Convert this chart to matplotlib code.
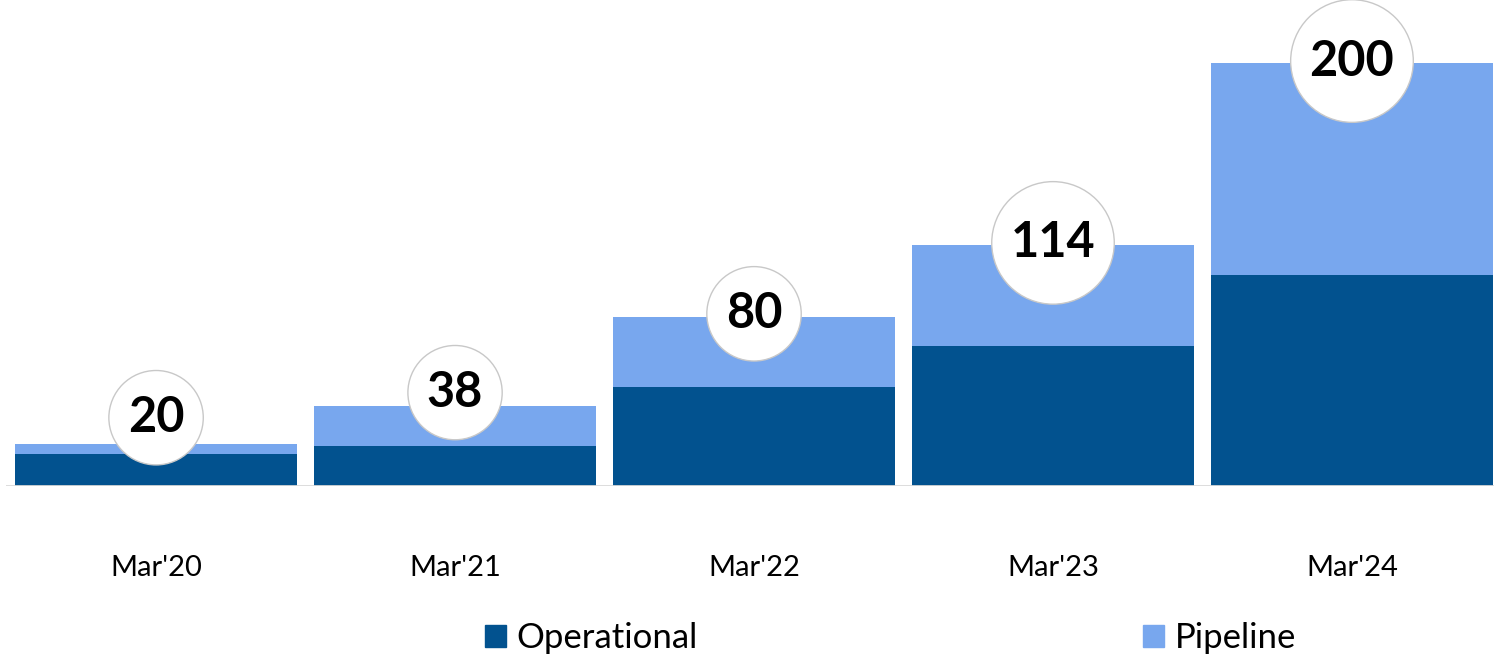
import matplotlib.pyplot as plt
from matplotlib.patches import Patch

years = ["Mar'20", "Mar'21", "Mar'22", "Mar'23", "Mar'24"]
operational = [15, 19, 47, 66, 100]
pipeline = [5, 19, 33, 48, 100]
totals = [20, 38, 80, 114, 200]

# lift of the circle label above the bar top, in pixels
label_lift = [26, 13, 3, 2, 2]

color_op = "#02528F"
color_pipe = "#78A7EE"

plt.rcParams['font.family'] = ['Lato', 'DejaVu Sans']

fig = plt.figure(figsize=(14.94, 6.58), dpi=100)
ax = fig.add_axes([0.004, 0.2614, 0.996, 0.7386])

x = list(range(len(years)))
ax.bar(x, operational, width=0.943, color=color_op, zorder=2)
ax.bar(x, pipeline, width=0.943, bottom=operational, color=color_pipe, zorder=2)

for xi, tot, lift in zip(x, totals, label_lift):
    ax.annotate(str(tot), (xi, tot), xytext=(0, lift), textcoords='offset pixels',
                ha='center', va='center', fontsize=35, fontweight='bold', color='black',
                zorder=5,
                bbox=dict(boxstyle='circle,pad=0.39', fc='white', ec='#C8C8C8', lw=1))

ax.set_xlim(-0.502, 4.475)
ax.set_ylim(0, 229.8)
ax.axhline(0, color='#D9D9D9', lw=2, zorder=3)

for s in ax.spines.values():
    s.set_visible(False)
ax.set_yticks([])
ax.set_xticks(x)
ax.set_xticklabels(years, fontsize=21)
ax.tick_params(axis='x', length=0, pad=50)

handles = [Patch(color=color_op, label='Operational'),
           Patch(color=color_pipe, label='Pipeline')]
fig.legend(handles=handles, loc='center', bbox_to_anchor=(0.596, 0.03), ncol=2,
           frameon=False, fontsize=25, handlelength=0.6, handleheight=0.6,
           handletextpad=0.3, columnspacing=12.85)

fig.savefig('out.png', dpi=100)
